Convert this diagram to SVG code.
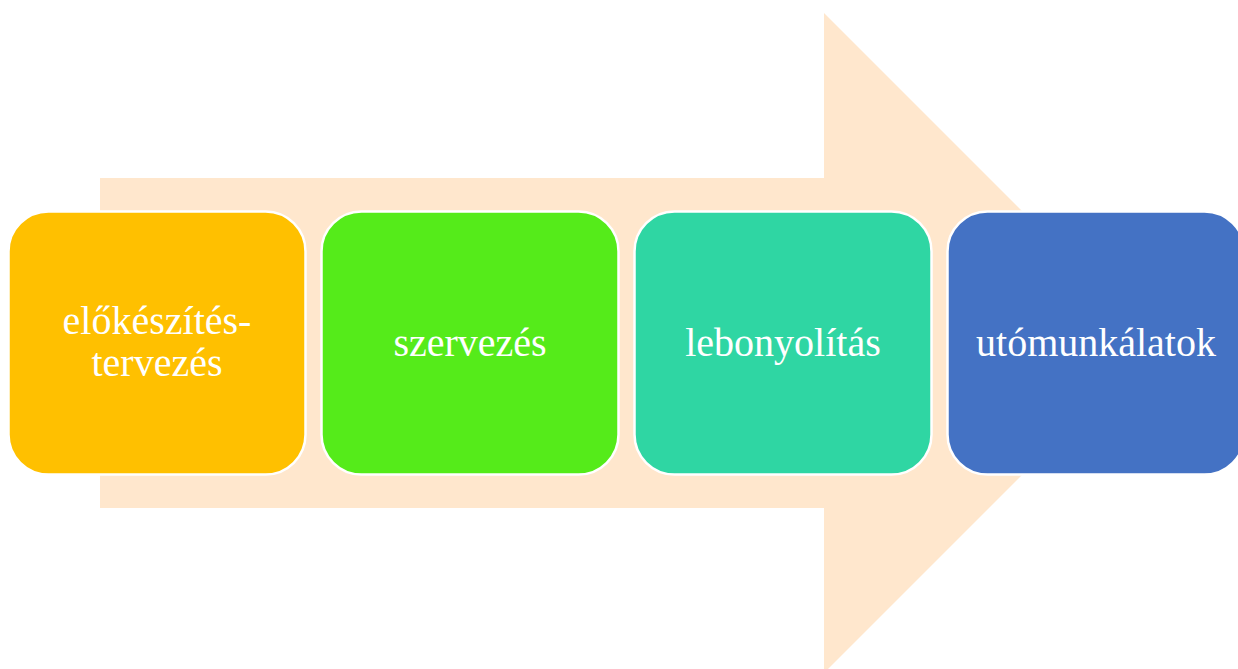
<svg xmlns="http://www.w3.org/2000/svg" width="1238" height="669" viewBox="0 0 1238 669">
  <style>
    .box { stroke: #ffffff; stroke-width: 2.5; }
    .lbl { font-family: "Liberation Serif", "Times New Roman", serif; font-size: 40px; fill: #ffffff; text-anchor: middle; }
  </style>
  <rect width="1238" height="669" fill="#ffffff"/>
  <g id="arrow">
    <polygon points="100,178 824,178 824,13 1154,343 824,673 824,508 100,508" fill="#FFE7CD"/>
  </g>
  <g id="connectors"></g>
  <g id="node1">
    <rect class="box" x="8.5" y="211.5" width="297" height="263" rx="40" ry="40" fill="#FFC000"/>
    <text class="lbl" x="157" y="334">előkészítés-</text>
    <text class="lbl" x="157" y="376">tervezés</text>
  </g>
  <g id="node2">
    <rect class="box" x="321.5" y="211.5" width="297" height="263" rx="40" ry="40" fill="#55EB1A"/>
    <text class="lbl" x="470" y="356">szervezés</text>
  </g>
  <g id="node3">
    <rect class="box" x="634.5" y="211.5" width="297" height="263" rx="40" ry="40" fill="#2FD6A3"/>
    <text class="lbl" x="783" y="356">lebonyolítás</text>
  </g>
  <g id="node4">
    <rect class="box" x="947.5" y="211.5" width="297" height="263" rx="40" ry="40" fill="#4472C4"/>
    <text class="lbl" x="1096" y="356">utómunkálatok</text>
  </g>
</svg>
